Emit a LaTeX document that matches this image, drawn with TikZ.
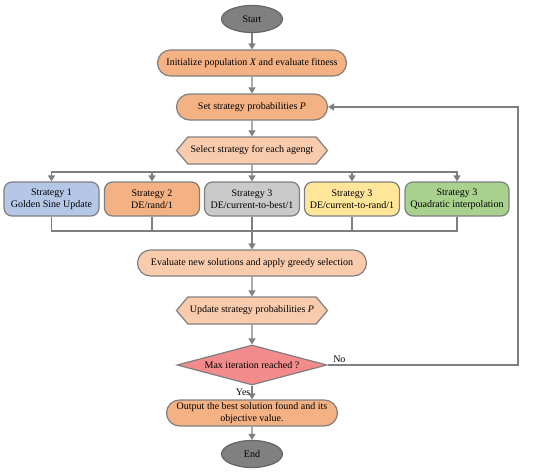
\documentclass[tikz,border=0pt]{standalone}
\usepackage{fontspec}
\setmainfont{Liberation Serif}
\usetikzlibrary{shapes.geometric,shapes.misc,shapes.symbols,arrows.meta}
\definecolor{edgegray}{HTML}{7F7F7F}
\definecolor{termgray}{HTML}{808080}
\definecolor{procorange}{HTML}{F4B183}
\definecolor{lightorange}{HTML}{F8CBAD}
\definecolor{stblue}{HTML}{B4C7E7}
\definecolor{stgray}{HTML}{C9C9C9}
\definecolor{styellow}{HTML}{FFE699}
\definecolor{stgreen}{HTML}{A9D18E}
\definecolor{decred}{HTML}{F28B8B}
\begin{document}
\begin{tikzpicture}[x=1pt,y=1pt]
	\tikzstyle{every node}+=[inner sep=0pt,font=\fontsize{10}{12.5}\selectfont]
	\tikzstyle{term}=[ellipse,draw=edgegray!80!black,fill=termgray,line width=1.2pt,minimum width=61pt,minimum height=27pt]
	\tikzstyle{proc}=[rounded rectangle,draw=edgegray,line width=1.2pt,minimum height=26pt,align=center]
	\tikzstyle{prep}=[signal,signal to=west and east,signal pointer angle=100,draw=edgegray,fill=lightorange,line width=1.2pt,minimum width=151pt,minimum height=27pt]
	\tikzstyle{strat}=[rectangle,rounded corners=8pt,draw=edgegray,line width=1.2pt,minimum width=95pt,minimum height=34pt,align=center]
	\tikzstyle{dec}=[diamond,aspect=3.75,draw=edgegray,fill=decred,line width=1.2pt,minimum width=150pt,minimum height=40pt]
	\tikzstyle{line}=[draw=edgegray,line width=1.3pt]
	\tikzstyle{arrow}=[line,-{Triangle[length=6pt,width=7pt]}]
	\useasboundingbox (0,0) rectangle (550,-472);
	\node [term] (start) at (252,-19) {Start};
	\node [proc,fill=procorange,minimum width=189pt] (init) at (252,-63) {Initialize population \textit{X} and evaluate fitness};
	\node [proc,fill=procorange,minimum width=151pt] (setp) at (252,-107) {Set strategy probabilities \textit{P}};
	\node [prep] (select) at (252,-150.5) {Select strategy for each agengt};
	\node [strat,fill=stblue] (s1) at (51.5,-199) {Strategy 1\\Golden Sine Update};
	\node [strat,fill=procorange] (s2) at (152,-199) {Strategy 2\\DE/rand/1};
	\node [strat,fill=stgray] (s3) at (252,-199) {Strategy 3\\DE/current-to-best/1};
	\node [strat,fill=styellow] (s4) at (352,-199) {Strategy 3\\DE/current-to-rand/1};
	\node [strat,fill=stgreen,minimum width=104pt] (s5) at (457,-199) {Strategy 3\\Quadratic interpolation};
	\node [proc,fill=lightorange,minimum width=229pt] (eval) at (252,-263) {Evaluate new solutions and apply greedy selection};
	\node [prep] (update) at (252,-310.5) {Update strategy probabilities \textit{P}};
	\node [dec] (maxit) at (252,-365) {Max iteration reached ?};
	\node [proc,fill=procorange,minimum width=171pt] (output) at (252,-413) {Output the best solution found and its\\objective value.};
	\node [term] (finish) at (252,-454) {End};
	\coordinate (split) at (252,-172);
	\coordinate (merge) at (252,-231);
	\coordinate (loop) at (518,-365);
	\draw [arrow] (start) -- (init);
	\draw [arrow] (init) -- (setp);
	\draw [arrow] (setp) -- (select);
	\draw [arrow] (select) -- (s3);
	\foreach \s in {s1,s2,s4,s5}
		\draw [arrow] (split) -| (\s.north);
	\foreach \s in {s1,s2,s3,s4,s5}
		\draw [line] (\s.south) |- (merge);
	\draw [arrow] (merge) -- (eval);
	\draw [arrow] (eval) -- (update);
	\draw [arrow] (update) -- (maxit);
	\draw [arrow] (maxit.east) -- node [pos=0,anchor=south west,xshift=5pt,yshift=2pt] {No} (loop) |- (setp.east);
	\draw [arrow] (maxit.south) -- node [left=1pt,pos=0.5] {Yes} (output.north);
	\draw [arrow] (output) -- (finish);
\end{tikzpicture}
\end{document}
